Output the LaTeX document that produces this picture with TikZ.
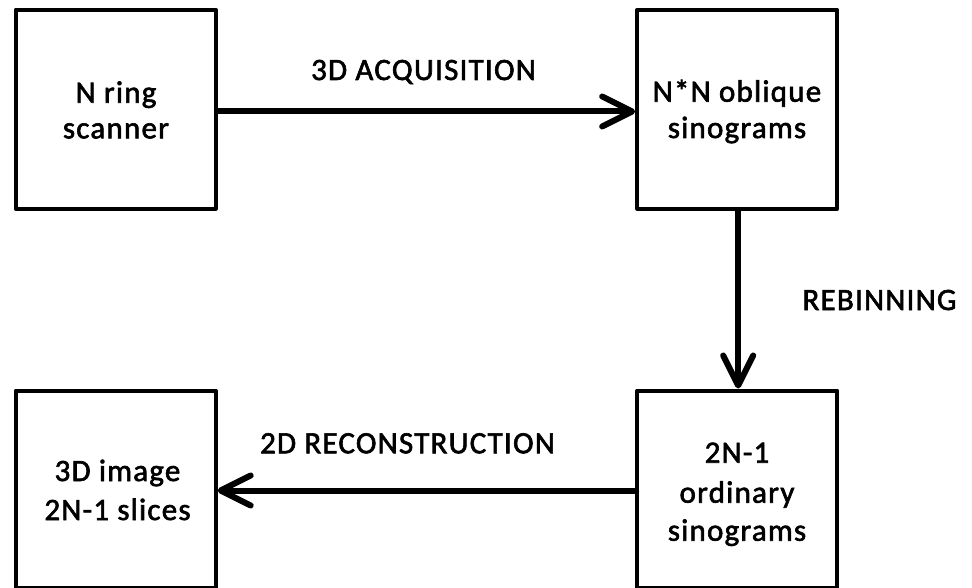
\documentclass[tikz,border=0pt]{standalone}
\usepackage{fontspec}
\setmainfont[LetterSpace=4,FakeBold=2]{Carlito}
\usetikzlibrary{arrows.meta}
\begin{document}
\begin{tikzpicture}[x=1pt,y=-1pt,
  boxx/.style={draw,line width=4pt,line join=round,minimum width=200pt,inner sep=0pt},
  txt/.style={anchor=base,inner sep=0pt,font=\fontsize{31}{31}\selectfont},
  conn/.style={line width=6pt,-{Straight Barb[length=30pt,width=30pt,line cap=round,line join=round]}}]
\useasboundingbox (0,0) rectangle (972,588);
\node[boxx,minimum height=199pt] (scan) at (115.7,109.2) {};
\node[boxx,minimum height=199pt] (obl) at (737.2,109.2) {};
\node[boxx,minimum height=197pt] (ord) at (737.2,489) {};
\node[boxx,minimum height=197pt] (img) at (115.7,489) {};
\node[txt] (scan1) at (116,102.7) {N ring};
\node[txt] (scan2) at (116,138.3) {scanner};
\node[txt] (obl1) at (737,101.7) {N*N oblique};
\node[txt] (obl2) at (737,138) {sinograms};
\node[txt] (ord1) at (737,462.7) {2N-1};
\node[txt] (ord2) at (737,502.7) {ordinary};
\node[txt] (ord3) at (737,540.7) {sinograms};
\node[txt] (img1) at (117.5,481) {3D image};
\node[txt] (img2) at (117.5,520) {2N-1 slices};
\draw[conn] ([yshift=-2.3pt]scan.east) -- ([yshift=-2.3pt]obl.west);
\draw[conn] ([xshift=1pt]obl.south) -- ([xshift=1pt]ord.north);
\draw[conn] ([yshift=-1.5pt]ord.west) -- ([yshift=-1.5pt]img.east);
\node[txt] (l1) at (423.5,80) {3D ACQUISITION};
\node[txt] (l2) at (879.5,310) {REBINNING};
\node[txt] (l3) at (407.5,453.3) {2D RECONSTRUCTION};
\end{tikzpicture}
\end{document}
